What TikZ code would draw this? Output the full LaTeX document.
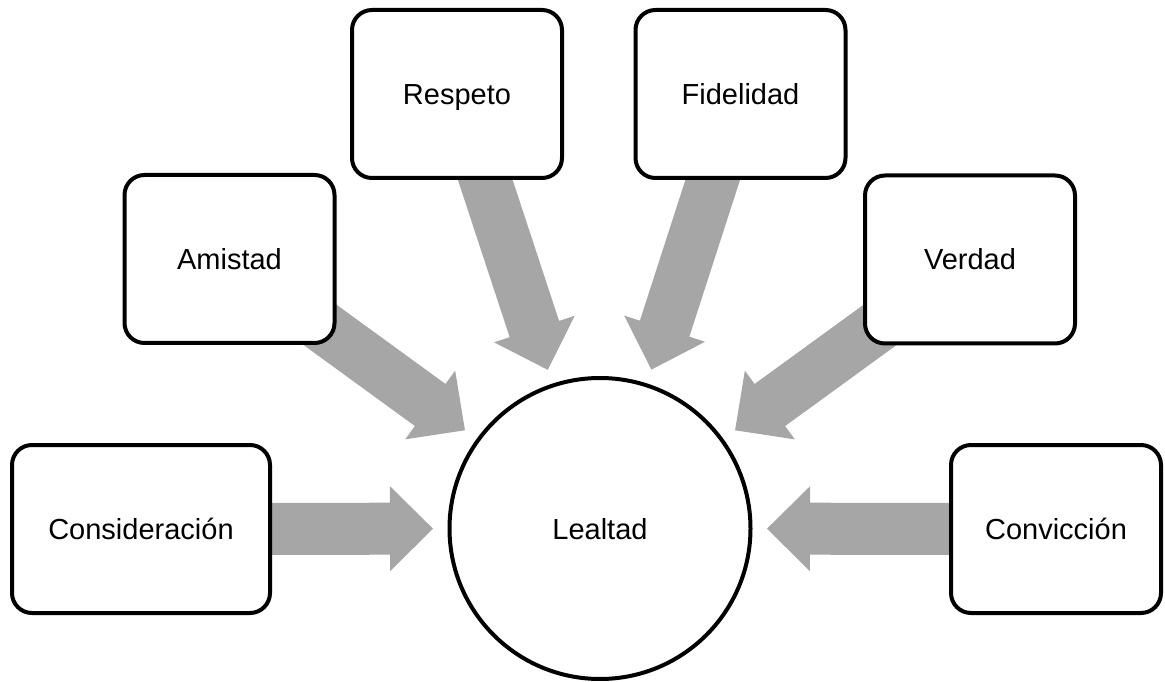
\documentclass[tikz,border=0pt]{standalone}
\usepackage{fontspec}
\setmainfont{Liberation Sans}
\usetikzlibrary{calc,backgrounds}

\definecolor{arrowgray}{RGB}{166,166,166}

\tikzset{
    itembox/.style={draw, line width=4pt, rounded corners=20pt, fill=white,
        minimum width=210pt, minimum height=168pt, inner sep=0pt,
        text height=21pt, text depth=0pt,
        font=\fontsize{29}{35}\selectfont},
    hub/.style={draw, circle, line width=4pt, fill=white, minimum size=301pt,
        inner sep=0pt, text height=21pt, text depth=0pt,
        font=\fontsize{29}{35}\selectfont}
}

\newcommand{\fatarrow}[1]{%
    \coordinate (#1-tip) at ($(lealtad)!167pt!(#1)$);
    \coordinate (#1-base) at ($(#1-tip)!43pt!(#1)$);
    \fill[arrowgray] ($(#1)!26pt!90:(#1-tip)$)
        -- ($(#1-base)!26pt!90:(#1-tip)$)
        -- ($(#1-base)!42.5pt!90:(#1-tip)$)
        -- (#1-tip)
        -- ($(#1-base)!42.5pt!-90:(#1-tip)$)
        -- ($(#1-base)!26pt!-90:(#1-tip)$)
        -- ($(#1)!26pt!-90:(#1-tip)$) -- cycle;
}

\begin{document}
\begin{tikzpicture}[x=1pt,y=1pt]
    \useasboundingbox (0,0) rectangle (1165,681);

    \node[hub] (lealtad) at (600,152.5) {Lealtad};

    \node[itembox, minimum width=258pt] (consideracion) at (141,152) {Consideración};
    \node[itembox] (amistad) at (229.5,422) {Amistad};
    \node[itembox] (respeto) at (457,587) {Respeto};
    \node[itembox] (fidelidad) at (740.5,587) {Fidelidad};
    \node[itembox] (verdad) at (970,421.5) {Verdad};
    \node[itembox] (conviccion) at (1056,152) {Convicción};

    \begin{scope}[on background layer]
        \foreach \src in {consideracion,amistad,respeto,fidelidad,verdad,conviccion}
            {\fatarrow{\src}}
    \end{scope}
\end{tikzpicture}
\end{document}
